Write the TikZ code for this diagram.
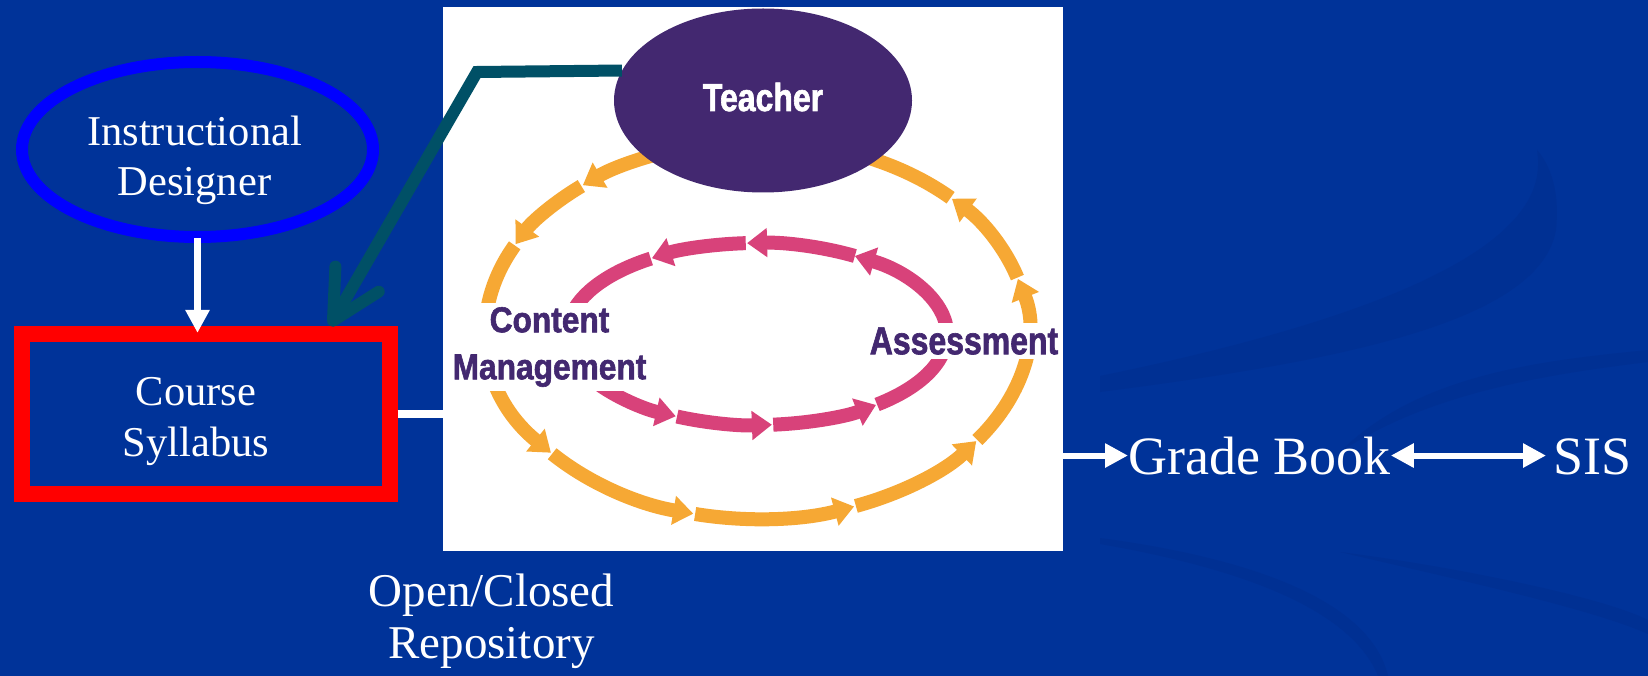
\documentclass[tikz,border=0pt]{standalone}
\usepackage{fontspec}
\setmainfont{Liberation Serif}
\newfontfamily\tightsans[FakeStretch=0.82, BoldFeatures={FakeBold=1.6}]{Liberation Sans}
\newfontfamily\widesans[FakeStretch=0.88, BoldFeatures={FakeBold=1.6}]{Liberation Sans}
\usetikzlibrary{arrows.meta,shapes.geometric}

\definecolor{slideblue}{RGB}{0,51,153}
\definecolor{swooshblue}{RGB}{0,48,147}
\definecolor{ringblue}{RGB}{0,0,255}
\definecolor{boxred}{RGB}{255,0,0}
\definecolor{linkteal}{RGB}{0,80,102}
\definecolor{teacherpurple}{RGB}{67,40,112}
\definecolor{ringorange}{RGB}{246,168,52}
\definecolor{ringpink}{RGB}{216,66,122}

\tikzset{
  slidetext/.style={text=white, align=center, inner sep=0pt},
  whitearrow/.style={draw=white, line width=7pt, -{Triangle[length=23pt,width=23pt]}},
  outerring/.style={draw=ringorange, line width=14pt},
  innerring/.style={draw=ringpink, line width=14pt},
  ringhead/.style={-{Triangle[length=20pt,width=28pt]}},
  cyclelabel/.style={text=teacherpurple, fill=white, align=center, inner xsep=3pt, inner ysep=4.5pt},
}

\begin{document}
\begin{tikzpicture}[x=1pt,y=-1pt]
\useasboundingbox (0,0) rectangle (1648,676);
\fill[slideblue] (0,0) rectangle (1648,676);

% faint swooshes of the slide background
\fill[swooshblue] (1100,392) .. controls (1350,360) and (1540,320) .. (1556,230)
  .. controls (1560,190) and (1550,165) .. (1537,150)
  .. controls (1545,200) and (1520,290) .. (1100,376) -- cycle;
\fill[swooshblue] (1340,452) .. controls (1420,372) and (1550,360) .. (1648,350)
  -- (1648,362) .. controls (1550,374) and (1430,392) .. (1340,452) -- cycle;
\fill[swooshblue] (1100,538) .. controls (1250,558) and (1370,600) .. (1388,676)
  -- (1378,676) .. controls (1352,612) and (1250,570) .. (1100,544) -- cycle;
\fill[swooshblue] (1340,552) .. controls (1450,566) and (1600,596) .. (1648,620)
  -- (1648,634) .. controls (1590,608) and (1450,578) .. (1340,552) -- cycle;

% picture panel with the teaching cycle
\node[fill=white, minimum width=620pt, minimum height=543.4pt, inner sep=0pt, outer sep=0pt] (panel) at (753,279) {};
\begin{scope}
  \clip (443,7.3) rectangle (1063,550.7);
  % outer cycle
  \foreach \a/\b in {255/230,229.6/207,206.6/139.5,139.1/103.6,103.2/69,68.6/36,35.6/-15.7,-16.1/-44}
    \draw[outerring, ringhead] (757,330) ++(\a:271 and 189)
      arc[start angle=\a, end angle=\b, x radius=271, y radius=189];
  \draw[outerring] (757,330) ++(-44.4:271 and 189)
    arc[start angle=-44.4, end angle=-80, x radius=271, y radius=189];
  % inner cycle
  \foreach \a/\b in {301/267,266.6/236.4,236/115.3,114.9/85.5,85.1/51.2,50.8/-59}
    \draw[innerring, ringhead] (757,334) ++(\a:190 and 91)
      arc[start angle=\a, end angle=\b, x radius=190, y radius=91];
  \node[cyclelabel, font=\widesans\bfseries\fontsize{36}{47}\selectfont] (content) at (549.5,347) {Content\\Management};
  \node[cyclelabel, inner ysep=4pt, font=\tightsans\bfseries\fontsize{39}{47}\selectfont] (assess) at (964,341) {Assessment};
  \node[ellipse, fill=teacherpurple, minimum width=298pt, minimum height=184pt, inner sep=0pt,
        text=white, font=\tightsans\bfseries\fontsize{39}{47}\selectfont,
        text height=28.4pt, text depth=7.4pt] (teacher) at (763,100.5) {Teacher};
\end{scope}

% left column
\node[ellipse, draw=ringblue, line width=12pt, minimum width=351pt, minimum height=175pt, inner sep=0pt] (id) at (197.5,149.5) {};
\node[slidetext, font=\fontsize{42.5}{50}\selectfont] (idtext) at (194.5,160.2) {Instructional\\Designer};
\node[draw=boxred, line width=16pt, minimum width=368pt, minimum height=160pt, inner sep=0pt] (cs) at (205.6,413.9) {};
\node[slidetext, font=\fontsize{42.5}{51}\selectfont] (cstext) at (196,421.4) {Course\\Syllabus};

\draw[whitearrow, shorten <=-5pt, shorten >=-7pt] (id.south) -- (id.south |- cs.north);
\draw[draw=white, line width=8pt] (cs.east) -- (cs.east -| panel.west);

% teacher link
\coordinate (bend) at (477,72);
\coordinate (tealx) at (330,0);
\draw[linkteal, line width=12pt, -{Straight Barb[length=48pt,width=50pt,round]}]
  (teacher.168.6) -- (bend) -- (cs.north -| tealx);

% repository caption
\node[slidetext, font=\fontsize{47}{51.6}\selectfont] (repo) at (491.5,621.5) {Open/Closed\\Repository};

% grade book and SIS
\node[slidetext, font=\fontsize{54}{60}\selectfont, anchor=base west] (gb) at (1128,474) {Grade Book};
\node[slidetext, font=\fontsize{54}{60}\selectfont, anchor=base west] (sis) at (1553,474) {SIS};
\draw[whitearrow, line width=6pt] (panel.east |- gb.west) -- (gb.west);
\draw[whitearrow, line width=6pt, {Triangle[length=23pt,width=23pt]}-{Triangle[length=23pt,width=23pt]}, shorten >=7pt]
  (gb.east) -- (gb.east -| sis.west);
\end{tikzpicture}
\end{document}
